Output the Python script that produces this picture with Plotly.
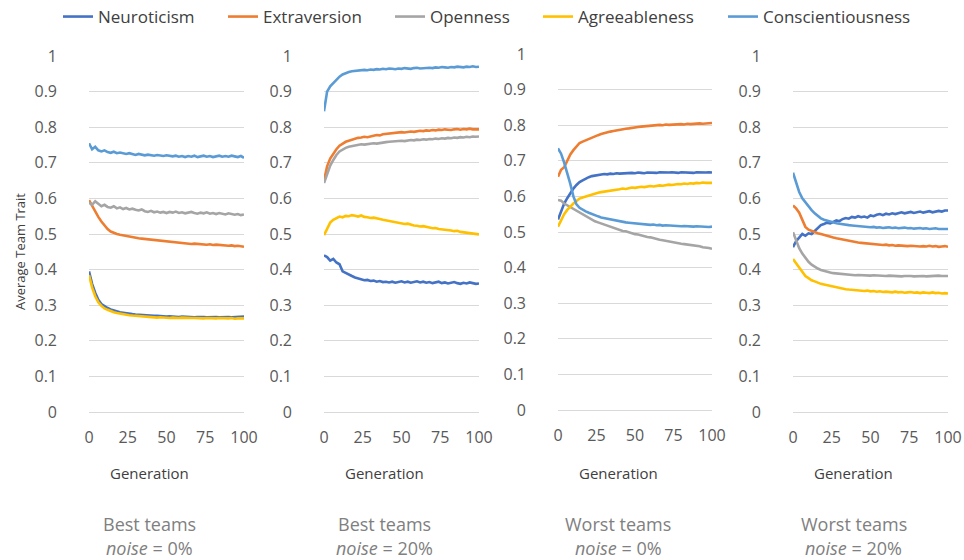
import plotly.graph_objects as go

GEN = list(range(0, 101, 2))
TRAITS = ["Neuroticism", "Extraversion", "Openness", "Agreeableness", "Conscientiousness"]
COLORS = ["#4472C4", "#ED7D31", "#A5A5A5", "#FFC000", "#5B9BD5"]
Y_TICKS = [0, 0.1, 0.2, 0.3, 0.4, 0.5, 0.6, 0.7, 0.8, 0.9, 1]
Y_TICK_TEXT = ["0", "0.1", "0.2", "0.3", "0.4", "0.5", "0.6", "0.7", "0.8", "0.9", "1"]
X_TICKS = [0, 25, 50, 75, 100]
PANEL_GROUP = ["Best teams", "Best teams", "Worst teams", "Worst teams"]
PANEL_NOISE = ["0%", "20%", "0%", "20%"]

# ---- Best teams, noise 0% ----
best0_neuro = [0.395, 0.36, 0.335, 0.315, 0.303, 0.297, 0.292, 0.288, 0.285, 0.282,
               0.28, 0.279, 0.277, 0.276, 0.275, 0.274, 0.273, 0.273, 0.272, 0.271,
               0.271, 0.27, 0.27, 0.269, 0.27, 0.268, 0.269, 0.268, 0.268, 0.267,
               0.268, 0.267, 0.268, 0.267, 0.266, 0.267, 0.268, 0.267, 0.266, 0.267,
               0.268, 0.267, 0.266, 0.267, 0.268, 0.267, 0.266, 0.267, 0.268, 0.267,
               0.268]
best0_extra = [0.595, 0.578, 0.562, 0.548, 0.535, 0.524, 0.514, 0.507, 0.503, 0.5,
               0.498, 0.496, 0.494, 0.492, 0.49, 0.489, 0.488, 0.487, 0.486, 0.486,
               0.485, 0.484, 0.482, 0.481, 0.48, 0.479, 0.478, 0.477, 0.476, 0.475,
               0.474, 0.474, 0.473, 0.472, 0.473, 0.472, 0.471, 0.472, 0.47, 0.471,
               0.469, 0.47, 0.469, 0.468, 0.469, 0.467, 0.468, 0.466, 0.467, 0.465,
               0.464]
best0_open = [0.588, 0.582, 0.592, 0.585, 0.578, 0.582, 0.576, 0.574, 0.578, 0.572,
              0.575, 0.57, 0.573, 0.569, 0.571, 0.568, 0.566, 0.569, 0.564, 0.562,
              0.565, 0.561, 0.563, 0.56, 0.562, 0.559, 0.562, 0.56, 0.563, 0.559,
              0.561, 0.558, 0.56, 0.562, 0.559, 0.557, 0.56, 0.558, 0.561, 0.557,
              0.559, 0.556, 0.559, 0.557, 0.555, 0.558, 0.556, 0.554, 0.556, 0.553,
              0.555]
best0_agree = [0.385, 0.35, 0.325, 0.308, 0.298, 0.291, 0.287, 0.283, 0.28, 0.278,
               0.276, 0.275, 0.273, 0.272, 0.271, 0.27, 0.269, 0.268, 0.268, 0.267,
               0.266, 0.266, 0.265, 0.266, 0.265, 0.265, 0.264, 0.265, 0.264, 0.264,
               0.265, 0.264, 0.263, 0.264, 0.264, 0.263, 0.264, 0.263, 0.264, 0.263,
               0.262, 0.263, 0.264, 0.263, 0.262, 0.263, 0.264, 0.262, 0.263, 0.262,
               0.263]
best0_consc = [0.755, 0.738, 0.745, 0.735, 0.732, 0.735, 0.73, 0.728, 0.731, 0.727,
               0.729, 0.726, 0.725, 0.727, 0.724, 0.722, 0.725, 0.723, 0.721, 0.723,
               0.722, 0.72, 0.722, 0.721, 0.719, 0.721, 0.72, 0.718, 0.72, 0.717,
               0.719, 0.716, 0.719, 0.717, 0.72, 0.716, 0.718, 0.72, 0.717, 0.719,
               0.716, 0.718, 0.72, 0.717, 0.719, 0.717, 0.72, 0.718, 0.716, 0.719,
               0.714]

# ---- Best teams, noise 20% ----
best20_neuro = [0.44, 0.435, 0.425, 0.43, 0.42, 0.415, 0.395, 0.39, 0.385, 0.382,
                0.378, 0.375, 0.372, 0.37, 0.371, 0.368, 0.369, 0.366, 0.368, 0.365,
                0.366, 0.364, 0.366, 0.363, 0.365, 0.367, 0.364, 0.366, 0.363, 0.365,
                0.367, 0.364, 0.366, 0.363, 0.365, 0.362, 0.364, 0.366, 0.362, 0.364,
                0.361, 0.363, 0.365, 0.362, 0.36, 0.363, 0.361, 0.364, 0.362, 0.36,
                0.361]
best20_extra = [0.65, 0.69, 0.712, 0.727, 0.738, 0.748, 0.754, 0.759, 0.762, 0.765,
                0.768, 0.77, 0.771, 0.773, 0.772, 0.775, 0.776, 0.778, 0.777, 0.78,
                0.781, 0.783, 0.782, 0.784, 0.785, 0.786, 0.785, 0.787, 0.788, 0.787,
                0.789, 0.79, 0.789, 0.791, 0.79, 0.792, 0.791, 0.793, 0.792, 0.794,
                0.793, 0.792, 0.794, 0.795, 0.793, 0.795, 0.794, 0.796, 0.794, 0.795,
                0.794]
best20_open = [0.643, 0.67, 0.692, 0.708, 0.722, 0.732, 0.738, 0.742, 0.745, 0.747,
               0.749, 0.75, 0.752, 0.751, 0.753, 0.754, 0.755, 0.754, 0.756, 0.757,
               0.758, 0.759, 0.76, 0.759, 0.761, 0.762, 0.761, 0.763, 0.764, 0.763,
               0.765, 0.764, 0.766, 0.765, 0.767, 0.766, 0.768, 0.767, 0.769, 0.768,
               0.77, 0.769, 0.771, 0.77, 0.772, 0.771, 0.773, 0.772, 0.774, 0.773,
               0.774]
best20_agree = [0.497, 0.515, 0.532, 0.54, 0.545, 0.549, 0.547, 0.551, 0.55, 0.553,
                0.551, 0.549, 0.552, 0.548, 0.547, 0.545, 0.546, 0.543, 0.542, 0.54,
                0.538, 0.536, 0.535, 0.533, 0.532, 0.53, 0.528, 0.529, 0.526, 0.524,
                0.523, 0.521, 0.522, 0.519, 0.518, 0.516, 0.517, 0.514, 0.513, 0.514,
                0.511, 0.51, 0.508, 0.509, 0.506, 0.505, 0.503, 0.504, 0.502, 0.5,
                0.499]
best20_consc = [0.845, 0.9, 0.915, 0.925, 0.935, 0.942, 0.948, 0.952, 0.955, 0.957,
                0.958, 0.96, 0.959, 0.961, 0.96, 0.962, 0.961, 0.963, 0.962, 0.964,
                0.963, 0.965, 0.964, 0.963, 0.965, 0.964, 0.966, 0.965, 0.964, 0.966,
                0.967, 0.965, 0.966, 0.968, 0.967, 0.966, 0.968, 0.967, 0.969, 0.968,
                0.967, 0.969, 0.968, 0.97, 0.969, 0.968, 0.97, 0.969, 0.971, 0.969,
                0.97]

# ---- Worst teams, noise 0% ----
worst0_neuro = [0.535, 0.56, 0.58, 0.595, 0.61, 0.622, 0.632, 0.64, 0.645, 0.65,
                0.654, 0.657, 0.659, 0.661, 0.662, 0.663, 0.662, 0.664, 0.663, 0.665,
                0.664, 0.665, 0.666, 0.665, 0.666, 0.665, 0.667, 0.666, 0.665, 0.667,
                0.666, 0.667, 0.666, 0.668, 0.667, 0.666, 0.667, 0.668, 0.667, 0.666,
                0.668, 0.667, 0.668, 0.667, 0.666, 0.668, 0.667, 0.668, 0.667, 0.668,
                0.667]
worst0_extra = [0.655, 0.675, 0.682, 0.7, 0.718, 0.73, 0.74, 0.75, 0.754, 0.758,
                0.762, 0.766, 0.769, 0.772, 0.775, 0.778, 0.78, 0.782, 0.784, 0.786,
                0.788, 0.789, 0.79, 0.791, 0.793, 0.794, 0.795, 0.796, 0.797, 0.798,
                0.799, 0.8, 0.799, 0.801, 0.8, 0.802, 0.801, 0.802, 0.803, 0.802,
                0.803, 0.802, 0.804, 0.803, 0.804, 0.803, 0.805, 0.804, 0.805, 0.806,
                0.806]
worst0_open = [0.59, 0.588, 0.58, 0.575, 0.57, 0.565, 0.56, 0.555, 0.55, 0.545,
               0.538, 0.535, 0.53, 0.527, 0.524, 0.521, 0.518, 0.514, 0.512, 0.508,
               0.507, 0.503, 0.502, 0.499, 0.498, 0.494, 0.493, 0.49, 0.488, 0.486,
               0.485, 0.482, 0.481, 0.478, 0.477, 0.475, 0.474, 0.471, 0.47, 0.469,
               0.467, 0.466, 0.465, 0.463, 0.462, 0.46, 0.46, 0.457, 0.457, 0.455,
               0.453]
worst0_agree = [0.515, 0.532, 0.55, 0.562, 0.572, 0.58, 0.587, 0.594, 0.597, 0.6,
                0.603, 0.606, 0.608, 0.61, 0.612, 0.613, 0.615, 0.616, 0.618, 0.619,
                0.62, 0.622, 0.621, 0.623, 0.625, 0.624, 0.626, 0.627, 0.626, 0.628,
                0.629, 0.628, 0.63, 0.631, 0.63, 0.632, 0.633, 0.632, 0.634, 0.635,
                0.634, 0.636, 0.635, 0.637, 0.636, 0.638, 0.637, 0.639, 0.638, 0.637,
                0.638]
worst0_consc = [0.735, 0.72, 0.695, 0.668, 0.635, 0.6, 0.578, 0.568, 0.562, 0.558,
                0.554, 0.55, 0.547, 0.544, 0.541, 0.539, 0.537, 0.535, 0.533, 0.531,
                0.53, 0.528, 0.527, 0.526, 0.525, 0.524, 0.523, 0.522, 0.523, 0.521,
                0.52, 0.521, 0.519, 0.52, 0.518, 0.519, 0.518, 0.517, 0.518, 0.517,
                0.516, 0.517, 0.516, 0.517, 0.515, 0.516, 0.515, 0.516, 0.515, 0.514,
                0.515]

# ---- Worst teams, noise 20% ----
worst20_neuro = [0.463, 0.48, 0.49, 0.5, 0.495, 0.502, 0.5, 0.508, 0.515, 0.525,
                 0.528, 0.532, 0.53, 0.535, 0.538, 0.536, 0.542, 0.545, 0.543, 0.548,
                 0.546, 0.55, 0.547, 0.549, 0.546, 0.552, 0.55, 0.554, 0.556, 0.553,
                 0.557, 0.555, 0.558, 0.556, 0.559, 0.561, 0.558, 0.56, 0.562, 0.559,
                 0.561, 0.563, 0.56, 0.562, 0.564, 0.561, 0.563, 0.565, 0.563, 0.566,
                 0.566]
worst20_extra = [0.58, 0.572, 0.56, 0.54, 0.52, 0.512, 0.508, 0.505, 0.502, 0.5,
                 0.497, 0.495, 0.493, 0.49, 0.488, 0.486, 0.484, 0.482, 0.48, 0.478,
                 0.477, 0.476, 0.475, 0.474, 0.473, 0.472, 0.471, 0.47, 0.471, 0.469,
                 0.47, 0.468, 0.469, 0.467, 0.468, 0.467, 0.468, 0.466, 0.467, 0.466,
                 0.467, 0.465, 0.466, 0.465, 0.467, 0.465, 0.466, 0.464, 0.465, 0.466,
                 0.464]
worst20_open = [0.505, 0.48, 0.46, 0.445, 0.432, 0.422, 0.414, 0.408, 0.403, 0.399,
                0.396, 0.394, 0.392, 0.39, 0.389, 0.388, 0.387, 0.386, 0.386, 0.385,
                0.384, 0.385, 0.384, 0.383, 0.384, 0.383, 0.384, 0.383, 0.382, 0.383,
                0.382, 0.383, 0.382, 0.383, 0.382, 0.381, 0.382, 0.383, 0.382, 0.381,
                0.382, 0.383, 0.382, 0.381, 0.382, 0.381, 0.382, 0.383, 0.382, 0.381,
                0.382]
worst20_agree = [0.43, 0.418, 0.405, 0.395, 0.382, 0.376, 0.37, 0.367, 0.363, 0.36,
                 0.358, 0.356, 0.353, 0.351, 0.35, 0.348, 0.346, 0.345, 0.344, 0.343,
                 0.342, 0.341, 0.342, 0.34, 0.341, 0.339, 0.34, 0.338, 0.339, 0.337,
                 0.338, 0.337, 0.336, 0.338, 0.336, 0.337, 0.335, 0.336, 0.337, 0.335,
                 0.336, 0.334, 0.336, 0.335, 0.334, 0.336, 0.334, 0.335, 0.333, 0.334,
                 0.333]
worst20_consc = [0.672, 0.645, 0.618, 0.6, 0.588, 0.577, 0.567, 0.558, 0.55, 0.544,
                 0.54, 0.537, 0.534, 0.532, 0.53, 0.529, 0.527, 0.526, 0.525, 0.524,
                 0.523, 0.522, 0.521, 0.52, 0.521, 0.519, 0.52, 0.518, 0.519, 0.517,
                 0.518, 0.519, 0.517, 0.518, 0.516, 0.517, 0.518, 0.516, 0.517, 0.515,
                 0.516, 0.517, 0.515, 0.516, 0.514, 0.515, 0.516, 0.514, 0.515, 0.514,
                 0.514]

PANELS = [
    [best0_neuro, best0_extra, best0_open, best0_agree, best0_consc],
    [best20_neuro, best20_extra, best20_open, best20_agree, best20_consc],
    [worst0_neuro, worst0_extra, worst0_open, worst0_agree, worst0_consc],
    [worst20_neuro, worst20_extra, worst20_open, worst20_agree, worst20_consc],
]

W, H = 964, 560
# plot-area pixel extents per panel (left, right, top, bottom)
PX = [(89, 244, 56, 412), (324, 479, 56, 412), (558, 712, 54, 410), (793, 948, 56, 412)]
# legend entry line-start positions (px)
LEG_X = [63, 228, 395, 543, 728]


def fx(px):
    return px / W


def fy(py):
    return 1 - py / H


FONT = "Open Sans, Noto Sans, sans-serif"
fig = go.Figure()

for p, series in enumerate(PANELS):
    ax = "" if p == 0 else str(p + 1)
    for t, vals in enumerate(series):
        fig.add_trace(go.Scatter(
            x=GEN[:len(vals)], y=vals, mode="lines",
            line=dict(color=COLORS[t], width=2.6),
            name=TRAITS[t], legendgroup=TRAITS[t], showlegend=(p == 0),
            legend="legend" if t == 0 else "legend" + str(t + 1),
            xaxis="x" + ax, yaxis="y" + ax, hoverinfo="skip",
        ))

layout = dict(
    width=W, height=H,
    margin=dict(l=0, r=0, t=0, b=0, autoexpand=False),
    paper_bgcolor="white", plot_bgcolor="white",
    showlegend=True,
    annotations=[],
)

for t, lx in enumerate(LEG_X):
    key = "legend" if t == 0 else "legend" + str(t + 1)
    layout[key] = dict(orientation="h", x=fx(lx - 5), xanchor="left",
                       y=fy(17), yanchor="middle",
                       font=dict(family=FONT, size=17, color="#404040"),
                       itemwidth=30, bgcolor="rgba(0,0,0,0)", borderwidth=0)

for p, (l, r, t, b) in enumerate(PX):
    ax = "" if p == 0 else str(p + 1)
    layout["xaxis" + ax] = dict(
        domain=[fx(l), fx(r)], range=[0, 100], tickvals=X_TICKS, ticks="",
        showgrid=False, zeroline=False, showline=False,
        tickfont=dict(family=FONT, size=16, color="#595959"),
        ticklabelstandoff=14, anchor="y" + ax,
    )
    layout["yaxis" + ax] = dict(
        domain=[fy(b), fy(t)], range=[0, 1], tickvals=Y_TICKS, ticktext=Y_TICK_TEXT, ticks="",
        showgrid=True, gridcolor="#D9D9D9", gridwidth=1,
        zeroline=True, zerolinecolor="#D9D9D9", zerolinewidth=1,
        showline=False,
        tickfont=dict(family=FONT, size=16, color="#595959"),
        ticklabelstandoff=31, anchor="x" + ax,
    )
    cx = fx((l + r) / 2 - 17)
    layout["annotations"].append(dict(
        text="Generation", x=cx, y=fy(473), xref="paper", yref="paper",
        showarrow=False, xanchor="center", yanchor="middle",
        font=dict(family=FONT, size=15, color="#404040")))
    layout["annotations"].append(dict(
        text=PANEL_GROUP[p], x=cx, y=fy(524), xref="paper", yref="paper",
        showarrow=False, xanchor="center", yanchor="middle",
        font=dict(family=FONT, size=18, color="#808080")))
    layout["annotations"].append(dict(
        text="<i>noise</i> = " + PANEL_NOISE[p], x=cx, y=fy(548), xref="paper", yref="paper",
        showarrow=False, xanchor="center", yanchor="middle",
        font=dict(family=FONT, size=18, color="#808080")))

layout["annotations"].append(dict(
    text="Average Team Trait", x=fx(20), y=fy(252), xref="paper", yref="paper",
    showarrow=False, xanchor="center", yanchor="middle", textangle=-90,
    font=dict(family=FONT, size=13, color="#404040")))

fig.update_layout(**layout)
# remove the default 8px page margin so the figure fills the window exactly
fig.write_html("out.html", config={"displayModeBar": False},
               post_script="document.body.style.margin='0px';")
